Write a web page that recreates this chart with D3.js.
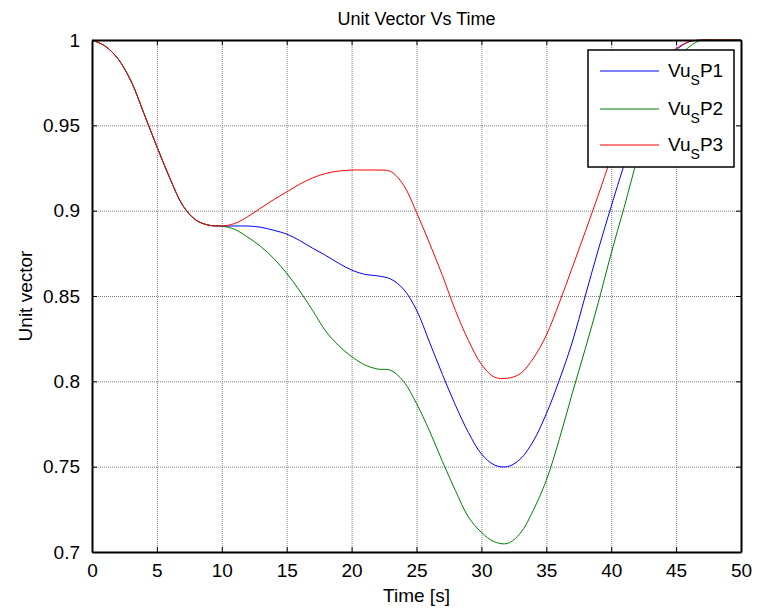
<!DOCTYPE html>
<html>
<head>
<meta charset="utf-8">
<script src="https://cdn.jsdelivr.net/npm/d3@7"></script>
<style>
    body { margin: 0; background: #ffffff; }
    text { font-family: "Liberation Sans", Arial, sans-serif; fill: #000000; }
    .grid line { stroke: #808080; stroke-width: 1; stroke-dasharray: 1,1; }
    .grid path { display: none; }
</style>
</head>
<body>
<div id="chart"></div>
<script>
// time samples in seconds
let times = [0, 1, 2, 3, 4, 5, 6, 7, 8, 9, 10,
    11, 12, 13, 14, 15, 16, 17, 18, 19, 20,
    21, 22, 23, 24, 25, 26, 27, 28, 29, 30,
    31, 32, 33, 34, 35, 36, 37, 38, 39, 40,
    41, 42, 43, 44, 45, 46, 47, 48, 49, 50]

// unit vector values
let vuP1 = [1.0, 0.9965, 0.989, 0.976, 0.957, 0.9375, 0.919, 0.903, 0.8945, 0.8915, 0.891,
    0.891, 0.891, 0.8903, 0.8885, 0.8863, 0.8825, 0.878, 0.8738, 0.8692, 0.8652,
    0.8627, 0.8618, 0.860, 0.854, 0.8418, 0.823, 0.804, 0.786, 0.770, 0.7575,
    0.751, 0.750, 0.7545, 0.765, 0.781, 0.8006, 0.823, 0.850, 0.877, 0.9025,
    0.927, 0.950, 0.969, 0.984, 0.994, 0.999, 1.0, 1.0, 1.0, 1.0]

let vuP2 = [1.0, 0.9965, 0.989, 0.976, 0.957, 0.9375, 0.919, 0.903, 0.8945, 0.8915, 0.891,
    0.889, 0.8845, 0.879, 0.872, 0.8633, 0.853, 0.8415, 0.8295, 0.821, 0.8145,
    0.8097, 0.8072, 0.8065, 0.800, 0.787, 0.771, 0.753, 0.736, 0.7205, 0.7115,
    0.706, 0.705, 0.711, 0.7245, 0.742, 0.766, 0.793, 0.819, 0.846, 0.875,
    0.902, 0.930, 0.954, 0.973, 0.987, 0.996, 1.0, 1.0, 1.0, 1.0]

let vuP3 = [1.0, 0.9965, 0.989, 0.976, 0.957, 0.9375, 0.919, 0.903, 0.8945, 0.8915, 0.891,
    0.8925, 0.8965, 0.9015, 0.9065, 0.911, 0.9155, 0.9192, 0.9218, 0.9232, 0.9238,
    0.9238, 0.9238, 0.923, 0.915, 0.899, 0.881, 0.862, 0.8415, 0.824, 0.810,
    0.8025, 0.8018, 0.8045, 0.8135, 0.827, 0.846, 0.8666, 0.8876, 0.909, 0.931,
    0.949, 0.965, 0.978, 0.988, 0.995, 0.999, 1.0, 1.0, 1.0, 1.0]

let seriesNames = ["P1", "P2", "P3"]
let seriesColors = ["#0000ff", "#008000", "#ff0000"]
let xTicks = [0, 5, 10, 15, 20, 25, 30, 35, 40, 45, 50]
let yTicks = [0.7, 0.75, 0.8, 0.85, 0.9, 0.95, 1]

// set the dimensions and margins of the graph
let margin = {top: 40, right: 19, bottom: 57, left: 92},
    width = 760 - margin.left - margin.right,
    height = 609 - margin.top - margin.bottom;

let svg = d3.select("#chart")
    .append("svg")
    .attr("width", 760)
    .attr("height", 609)
    .append("g")
    .attr("transform", "translate(" + margin.left + "," + margin.top + ")");

let x = d3.scaleLinear().domain([0, 50]).range([0, width])
let y = d3.scaleLinear().domain([0.7, 1]).range([height, 0])

// dotted grid lines
svg.append("g")
    .attr("class", "grid")
    .attr("transform", "translate(0," + height + ")")
    .call(d3.axisBottom(x).tickValues(xTicks.slice(1, -1)).tickSize(-height).tickFormat(""))

svg.append("g")
    .attr("class", "grid")
    .call(d3.axisLeft(y).tickValues(yTicks.slice(1, -1)).tickSize(-width).tickFormat(""))

// build the table of series
let series = [vuP1, vuP2, vuP3].map(function(vals, i) {
    return {name: seriesNames[i], color: seriesColors[i],
        values: times.map(function(t, j) { return {t: t, v: vals[j]} })}
})

let line = d3.line()
    .x(function(d) { return x(d.t) })
    .y(function(d) { return y(d.v) })
    .curve(d3.curveCatmullRom.alpha(0.5))

svg.selectAll(".series-line")
    .data(series)
    .enter()
    .append("path")
    .attr("class", "series-line")
    .attr("d", function(d) { return line(d.values) })
    .style("fill", "none")
    .style("stroke", function(d) { return d.color })
    .style("stroke-width", 1)

// axes with inward ticks on all four sides
let fontSize = "19px"
let bottomAxis = svg.append("g")
    .attr("transform", "translate(0," + height + ")")
    .call(d3.axisBottom(x).tickValues(xTicks).tickSizeInner(-5).tickSizeOuter(0).tickPadding(12))
let leftAxis = svg.append("g")
    .call(d3.axisLeft(y).tickValues(yTicks).tickFormat(d3.format("")).tickSizeInner(-5).tickSizeOuter(0).tickPadding(12))
let topAxis = svg.append("g")
    .call(d3.axisTop(x).tickValues(xTicks).tickSizeInner(-5).tickSizeOuter(0).tickFormat(""))
let rightAxis = svg.append("g")
    .attr("transform", "translate(" + width + ",0)")
    .call(d3.axisRight(y).tickValues(yTicks).tickSizeInner(-5).tickSizeOuter(0).tickFormat(""))

;[bottomAxis, leftAxis, topAxis, rightAxis].forEach(function(a) {
    a.selectAll("path").style("stroke", "#000").style("stroke-width", 2)
    a.selectAll("line").style("stroke", "#000").style("stroke-width", 1)
    a.selectAll("text").style("font-size", fontSize).style("font-family", "Liberation Sans, Arial, sans-serif")
})

// title and axis labels
svg.append("text")
    .attr("x", width / 2)
    .attr("y", -15)
    .style("text-anchor", "middle")
    .style("font-size", "18px")
    .text("Unit Vector Vs Time")

svg.append("text")
    .attr("x", width / 2)
    .attr("y", height + 50)
    .style("text-anchor", "middle")
    .style("font-size", "19px")
    .text("Time [s]")

svg.append("text")
    .attr("transform", "rotate(-90)")
    .attr("x", -height / 2)
    .attr("y", -60)
    .style("text-anchor", "middle")
    .style("font-size", "19px")
    .text("Unit vector")

// legend box
let legend = svg.append("g")
    .attr("transform", "translate(" + (588 - margin.left) + "," + (50 - margin.top) + ")")

legend.append("rect")
    .attr("width", 146)
    .attr("height", 117)
    .style("fill", "#ffffff")
    .style("stroke", "#000")
    .style("stroke-width", 1.5)

let rowY = [21, 59, 95]
series.forEach(function(s, i) {
    legend.append("line")
        .attr("x1", 12)
        .attr("x2", 71)
        .attr("y1", rowY[i])
        .attr("y2", rowY[i])
        .style("stroke", s.color)
        .style("stroke-width", 1)

    let label = legend.append("text")
        .attr("x", 80)
        .attr("y", rowY[i] + 6)
        .style("font-size", "19px")
    label.append("tspan").text("Vu")
    label.append("tspan").attr("dy", 8).style("font-size", "14px").text("S")
    label.append("tspan").attr("dy", -8).text(s.name)
})
</script>
</body>
</html>
